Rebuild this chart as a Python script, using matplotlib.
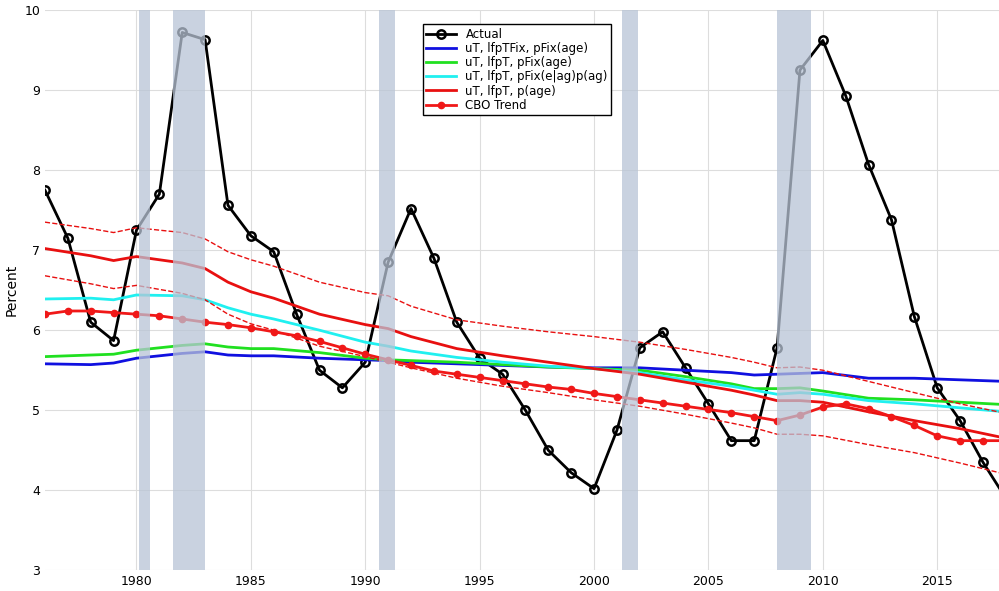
import matplotlib.pyplot as plt

years = list(range(1976, 2019))
actual = [7.75, 7.15, 6.1, 5.87, 7.25, 7.7, 9.72, 9.63, 7.56, 7.18, 6.98, 6.2, 5.5, 5.28, 5.6, 6.85, 7.52, 6.9, 6.1, 5.65, 5.45, 5.0, 4.5, 4.22, 4.02, 4.75, 5.78, 5.98, 5.53, 5.08, 4.62, 4.62, 5.78, 9.25, 9.62, 8.93, 8.07, 7.38, 6.17, 5.28, 4.87, 4.35, 3.9]
cbo = [6.2, 6.24, 6.24, 6.22, 6.2, 6.18, 6.14, 6.1, 6.07, 6.03, 5.98, 5.93, 5.86, 5.78, 5.7, 5.63, 5.56, 5.49, 5.45, 5.41, 5.37, 5.33, 5.29, 5.26, 5.21, 5.17, 5.13, 5.09, 5.05, 5.01, 4.97, 4.92, 4.87, 4.94, 5.04, 5.08, 5.02, 4.92, 4.81, 4.68, 4.62, 4.62, 4.62]

yrs_s = [1976, 1978, 1979, 1980, 1982, 1983, 1984, 1985, 1986, 1988, 1990, 1991, 1992, 1994, 1996, 1998, 2000, 2002, 2004, 2006, 2007, 2008, 2009, 2010, 2012, 2014, 2016, 2018]
blue = [5.58, 5.57, 5.59, 5.65, 5.71, 5.73, 5.69, 5.68, 5.68, 5.65, 5.63, 5.62, 5.6, 5.58, 5.56, 5.54, 5.53, 5.53, 5.5, 5.47, 5.44, 5.45, 5.46, 5.47, 5.4, 5.4, 5.38, 5.36]
green = [5.67, 5.69, 5.7, 5.75, 5.81, 5.83, 5.79, 5.77, 5.77, 5.72, 5.65, 5.63, 5.62, 5.6, 5.57, 5.54, 5.52, 5.5, 5.42, 5.33, 5.27, 5.27, 5.28, 5.24, 5.15, 5.13, 5.1, 5.07]
cyan = [6.39, 6.4, 6.38, 6.44, 6.43, 6.38, 6.28, 6.2, 6.14, 6.0, 5.85, 5.8, 5.74, 5.66, 5.6, 5.55, 5.52, 5.47, 5.38, 5.3, 5.25, 5.2, 5.22, 5.2, 5.12, 5.08, 5.03, 4.98]
red = [7.02, 6.93, 6.87, 6.92, 6.84, 6.77, 6.6, 6.48, 6.4, 6.2, 6.07, 6.02, 5.92, 5.77, 5.68, 5.6, 5.52, 5.45, 5.35, 5.25, 5.19, 5.12, 5.12, 5.1, 4.98, 4.87, 4.77, 4.65]
red_hi = [7.35, 7.27, 7.22, 7.28, 7.22, 7.14, 6.98, 6.88, 6.8, 6.6, 6.47, 6.43, 6.3, 6.13, 6.05, 5.98, 5.92, 5.85, 5.76, 5.66, 5.6, 5.53, 5.54, 5.5, 5.36, 5.22, 5.08, 4.96]
red_lo = [6.68, 6.58, 6.52, 6.56, 6.46, 6.38, 6.2, 6.08, 6.0, 5.8, 5.67, 5.6, 5.53, 5.4, 5.3, 5.22, 5.13, 5.05, 4.95, 4.84, 4.78, 4.7, 4.7, 4.68, 4.57, 4.47, 4.34, 4.2]

recessions = [(1980.1, 1980.6), (1981.6, 1983.0), (1990.6, 1991.3), (2001.2, 2001.9), (2008.0, 2009.5)]

fig = plt.figure(figsize=(9.99, 5.91), dpi=100)
ax = fig.add_axes([0.045, 0.035, 0.955, 0.948])
ax.plot(years, actual, '-o', color='k', lw=2, mfc='none', mec='k', ms=6, mew=1.8, label='Actual')
ax.plot(yrs_s, blue, color='#1010e0', lw=2, label='uT, lfpTFix, pFix(age)')
ax.plot(yrs_s, green, color='#20e020', lw=2, label='uT, lfpT, pFix(age)')
ax.plot(yrs_s, cyan, color='#20f0f0', lw=2, label='uT, lfpT, pFix(e|ag)p(ag)')
ax.plot(yrs_s, red, color='#e81010', lw=2, label='uT, lfpT, p(age)')
ax.plot(yrs_s, red_hi, '--', color='#e81010', lw=1)
ax.plot(yrs_s, red_lo, '--', color='#e81010', lw=1)
ax.plot(years, cbo, '-o', color='#f01818', lw=2, ms=4.5, label='CBO Trend')
for a, b in recessions:
    ax.axvspan(a, b, color='#b8c4d6', alpha=0.75, zorder=5, lw=0)
ax.set_xlim(1976, 2017.7)
ax.set_ylim(3, 10)
ax.set_xticks(range(1980, 2016, 5))
ax.set_ylabel('Percent', fontsize=10)
ax.grid(True, color='#dddddd', lw=0.8)
ax.tick_params(labelsize=9, length=0)
for s in ax.spines.values():
    s.set_visible(False)
leg = ax.legend(loc='upper left', bbox_to_anchor=(0.39, 0.985), fontsize=8.5, fancybox=False,
                edgecolor='k', framealpha=1, borderpad=0.3, labelspacing=0.1, handlelength=2.5)
leg.set_zorder(10)
fig.savefig('out.png')
